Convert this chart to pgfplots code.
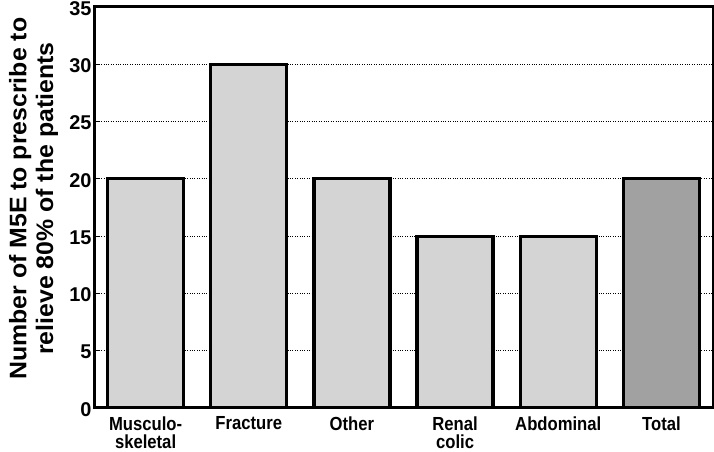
\documentclass[border=0pt]{standalone}
\usepackage{pgfplots}
\pgfplotsset{compat=1.18}
\usepackage{fontspec}
\setmainfont{Liberation Sans}
\newfontfamily\catfont[FakeStretch=0.88]{Liberation Sans}
\newfontfamily\labfont[FakeStretch=1.04]{Liberation Sans}
\definecolor{lightbar}{HTML}{D4D4D4}
\definecolor{darkbar}{HTML}{A1A1A1}
\pgfplotstableread{
x y
0 20
1 30
2 20
3 15
4 15
}\cats
\pgfplotstableread{
x y
5 20
}\total
\begin{document}
\begin{tikzpicture}[x=1bp,y=1bp]
\useasboundingbox (0,0) rectangle (714,452);
\begin{axis}[
  at={(94bp,44bp)}, anchor=south west,
  scale only axis, width=619bp, height=401bp,
  xmin=-0.5, xmax=5.5, ymin=0, ymax=35,
  xtick={0,...,5},
  xticklabels={{Musculo-\\skeletal},Fracture,Other,{Renal\\colic},Abdominal,Total},
  xticklabel style={align=center, font=\catfont\fontsize{19}{18}\selectfont\bfseries, anchor=north, yshift=0bp},
  major x tick style={draw=none},
  ytick={0,5,...,35},
  ytick pos=left, tick align=inside,
  major tick length=5bp,
  y tick style={line width=1bp, black},
  yticklabel style={font=\fontsize{20}{20}\selectfont\bfseries, xshift=1bp, yshift=-1.5bp},
  /pgf/number format/assume math mode=true,
  ymajorgrids, grid style={dotted, black, line width=0.8bp},
  axis line style={line width=3bp},
  ylabel={Number of M5E to prescribe to\\relieve 80\% of the patients},
  every axis y label/.style={at={(axis description cs:-0.0977,0.522)}, rotate=90, anchor=center,
     align=center, font=\labfont\fontsize{24}{27}\selectfont\bfseries},
  ybar, bar width=76bp, bar shift=0pt,
]
\addplot[draw=black, line width=3.2bp, fill=lightbar] table[x=x,y=y] {\cats};
\addplot[draw=black, line width=3.2bp, fill=darkbar] table[x=x,y=y] {\total};
\end{axis}
\end{tikzpicture}
\end{document}
